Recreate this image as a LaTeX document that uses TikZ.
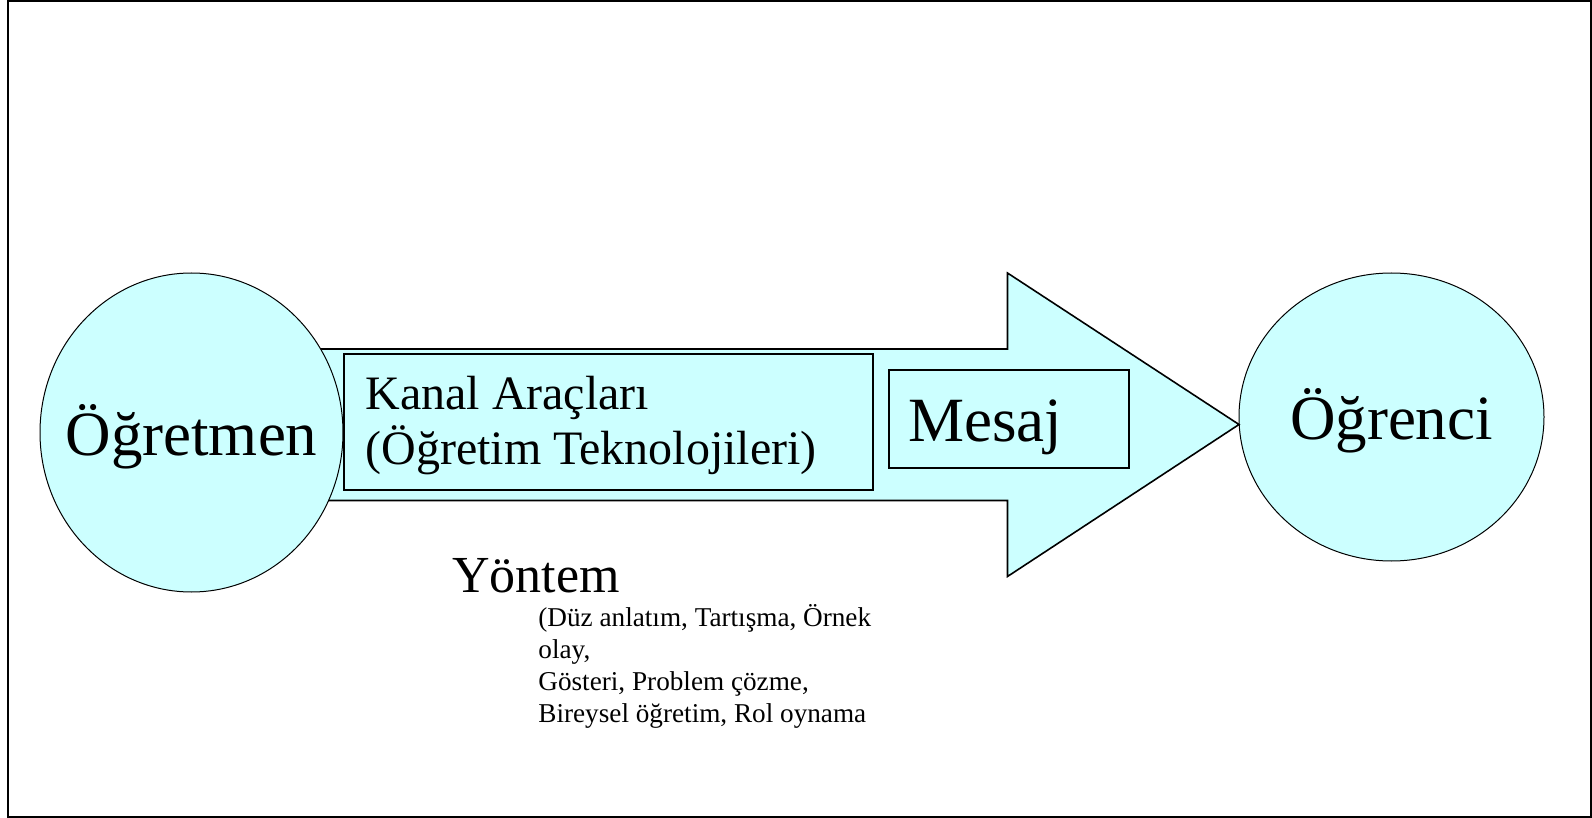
\documentclass[tikz,border=0pt]{standalone}
\usepackage{fontspec}
\setmainfont{Liberation Serif}
\usetikzlibrary{shapes.geometric}
\definecolor{acikmavi}{RGB}{204,255,255}
\newcommand{\buyuk}{\fontsize{31.5}{36}\selectfont}
\newcommand{\orta}{\fontsize{24}{29}\selectfont}
\newcommand{\kucuk}{\fontsize{13.6}{16}\selectfont}

\begin{document}
\begin{tikzpicture}[x=0.5pt,y=-0.5pt,
	daire/.style={ellipse,draw,fill=acikmavi,line width=0.5pt,inner sep=0pt},
	kutu/.style={rectangle,draw,fill=acikmavi,line width=0.8pt,inner sep=0pt,anchor=north west},
	ok/.style={draw,fill=acikmavi,line width=0.8pt,line join=miter},
	yazi/.style={inner sep=0pt,anchor=base west}]

	\useasboundingbox (0,0) rectangle (1592,818);
	\draw[line width=1pt] (8,1.5) rectangle (1591,817);

	\node[daire,minimum width=152.5pt,minimum height=144pt] (ogrenci) at (1391.5,417) {};
	\coordinate (uc) at (1239,424.5);
	\path[ok] (300,349) -- (1007.5,349) -- (1007.5,273) -- (uc)
		-- (1007.5,576.5) -- (1007.5,500.5) -- (300,500.5) -- cycle;
	\node[daire,minimum width=151.5pt,minimum height=159.5pt] (ogretmen) at (191.5,432.5) {};

	\node[kutu,minimum width=264.5pt,minimum height=68pt] (kanal) at (343,353) {};
	\node[kutu,minimum width=120pt,minimum height=49pt] (mesaj) at (888,369) {};

	\node[yazi,anchor=base,font=\buyuk] (ogretmenyazi) at (191.5,456) {Öğretmen};
	\node[yazi,anchor=base,font=\buyuk] (ogrenciyazi) at (1391.5,440) {Öğrenci};
	\node[yazi,font=\buyuk] (mesajyazi) at (908,441.5) {Mesaj};
	\node[yazi,font=\orta] (kanal1) at (365,410) {Kanal Araçları};
	\node[yazi,font=\orta] (kanal2) at (365,464.5) {(Öğretim Teknolojileri)};

	\node[yazi,font=\fontsize{26}{30}\selectfont] (yontem) at (452,592) {Yöntem};
	\foreach \i/\satir in {
	0/{(Düz anlatım, Tartışma, Örnek},
	1/{olay,},
	2/{Gösteri, Problem çözme,},
	3/{Bireysel öğretim, Rol oynama}}
	{
		\node[yazi,font=\kucuk] (yontem\i) at (538,626+32*\i) {\satir};
	};
\end{tikzpicture}
\end{document}
